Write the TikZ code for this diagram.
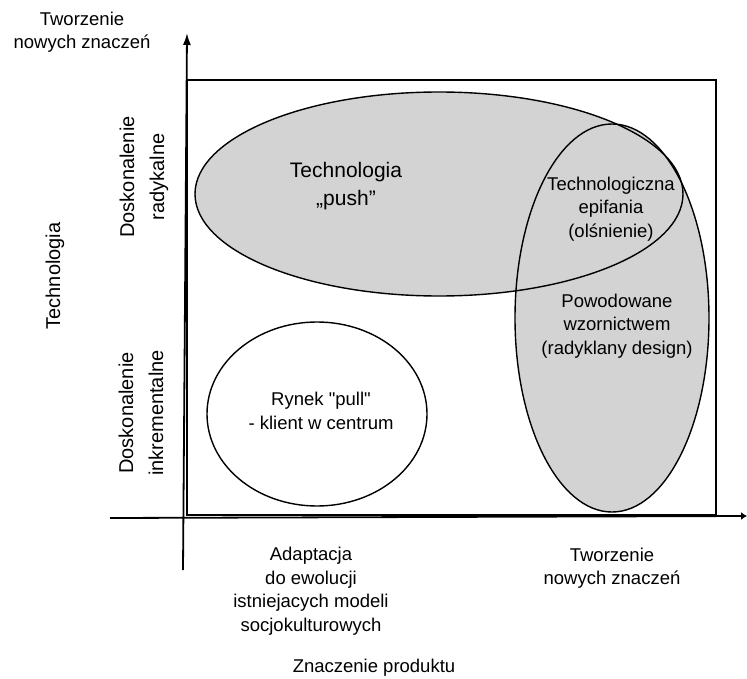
\documentclass[tikz,border=0pt]{standalone}
\usepackage{fontspec}
\setmainfont{Liberation Sans}[Ligatures=TeXOff]
\usetikzlibrary{arrows.meta}
\definecolor{bubble}{RGB}{211,211,211}
\begin{document}
\begin{tikzpicture}[x=1pt,y=-1pt,
  lbl/.style={align=center,inner sep=0pt,font=\fontsize{18.5}{23.5}\selectfont},
  biglbl/.style={align=center,inner sep=0pt,font=\fontsize{21}{28}\selectfont},
  rotlbl/.style={align=center,inner sep=0pt,rotate=90,font=\fontsize{20}{30}\selectfont},
  axisline/.style={line width=1.8pt},
  outline/.style={line width=1.4pt}]
\useasboundingbox (0,0) rectangle (747,679);
% frame
\draw[line width=1.8pt] (187,80) rectangle (716,515);
% bubbles: fills first
\fill[bubble] (439,194) ellipse [x radius=244, y radius=102];
\fill[bubble] (612,318) ellipse [x radius=97, y radius=194];
\draw[outline] (439,194) ellipse [x radius=244, y radius=102];
\draw[outline] (612,318) ellipse [x radius=97, y radius=194];
\draw[outline] (317,414) ellipse [x radius=110, y radius=92];
% axes
\coordinate (vb) at (183,570);
\coordinate (vt) at (187,33);
\coordinate (hl) at (110,518);
\coordinate (hr) at (747,516);
\draw[axisline,-{Latex[length=12pt,width=8pt]}] (vb) -- (vt);
\draw[axisline,-{Latex[length=6pt,width=8pt]}] (hl) -- (hr);
% texts
\node[lbl] (ytop) at (82,32) {Tworzenie\\nowych znaczeń};
\node[rotlbl] (ytech) at (55,276) {Technologia};
\node[rotlbl] (yrad) at (144,177) {Doskonalenie\\radykalne};
\node[rotlbl] (yinc) at (141,413) {Doskonalenie\\inkrementalne};
\node[biglbl] (push) at (346,186) {Technologia\\„push”};
\node[lbl] (epi) at (611,209) {Technologiczna\\epifania\\(olśnienie)};
\node[lbl] (des) at (617,326) {Powodowane\\wzornictwem\\(radyklany design)};
\node[lbl] (pull) at (321,411) {Rynek "pull"\\- klient w centrum};
\node[lbl] (xad) at (311,591) {Adaptacja\\do ewolucji\\istniejacych modeli\\socjokulturowych};
\node[lbl] (xnew) at (612,568) {Tworzenie\\nowych znaczeń};
\node[lbl] (xtitle) at (374,668) {Znaczenie produktu};
\end{tikzpicture}
\end{document}
